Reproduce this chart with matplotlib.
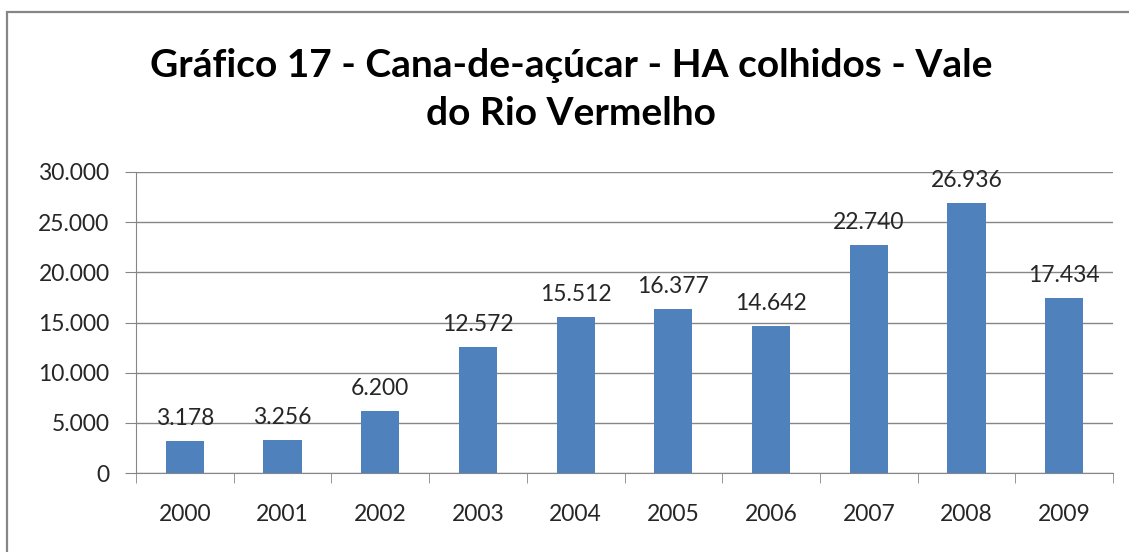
import matplotlib.pyplot as plt
from matplotlib.patches import Rectangle
from matplotlib.ticker import FuncFormatter

years = ["2000", "2001", "2002", "2003", "2004", "2005", "2006", "2007", "2008", "2009"]
ha_colhidos = [3178, 3256, 6200, 12572, 15512, 16377, 14642, 22740, 26936, 17434]
y_ticks = [0, 5000, 10000, 15000, 20000, 25000, 30000]
title_lines = ["Gráfico 17 - Cana-de-açúcar - HA colhidos - Vale", "do Rio Vermelho"]

plt.rcParams["font.family"] = ["Lato", "DejaVu Sans"]


def fmt(v, pos=None):
    return f"{int(v):,}".replace(",", ".")


W, H = 1129, 552
fig = plt.figure(figsize=(W / 100, H / 100), dpi=100)

# chart border (cut off at right and bottom in the original)
fig.patches.append(Rectangle((7 / W, -0.1), 1.2, 1 - 12 / H + 0.1,
                             transform=fig.transFigure, fill=False,
                             edgecolor="#868686", linewidth=1.6))

ax = fig.add_axes([136 / W, (H - 473) / H, (1113 - 136) / W, (473 - 172) / H])
x = list(range(len(years)))
bars = ax.bar(x, ha_colhidos, width=0.39, color="#4F81BD", zorder=3)

for b, v in zip(bars, ha_colhidos):
    ax.annotate(fmt(v), (b.get_x() + b.get_width() / 2, b.get_height()),
                xytext=(0, 12), textcoords="offset pixels",
                ha="center", va="bottom", fontsize=16.5, color="#262626", zorder=4)

ax.set_xlim(-0.5, len(years) - 0.5)
ax.set_ylim(0, 30000)
ax.set_yticks(y_ticks)
ax.yaxis.set_major_formatter(FuncFormatter(fmt))
ax.set_xticks(x)
ax.set_xticklabels(years)
ax.set_xticks([i - 0.5 for i in range(len(years) + 1)], minor=True)
ax.tick_params(axis="x", which="major", length=0, pad=22, labelsize=16.5, labelcolor="#262626")
ax.tick_params(axis="x", which="minor", length=7, color="#868686", direction="out")
ax.tick_params(axis="y", length=8, color="#868686", pad=11, labelsize=16.5, labelcolor="#262626")
ax.grid(axis="y", color="#868686", linewidth=1, zorder=0)

for s in ["top", "right"]:
    ax.spines[s].set_visible(False)
for s in ["left", "bottom"]:
    ax.spines[s].set_color("#868686")

for line, base in zip(title_lines, [77, 125]):
    fig.text(571 / W, 1 - base / H, line, ha="center", va="baseline",
             fontsize=28, fontweight="bold", color="black")

fig.savefig("out.png", dpi=100)
